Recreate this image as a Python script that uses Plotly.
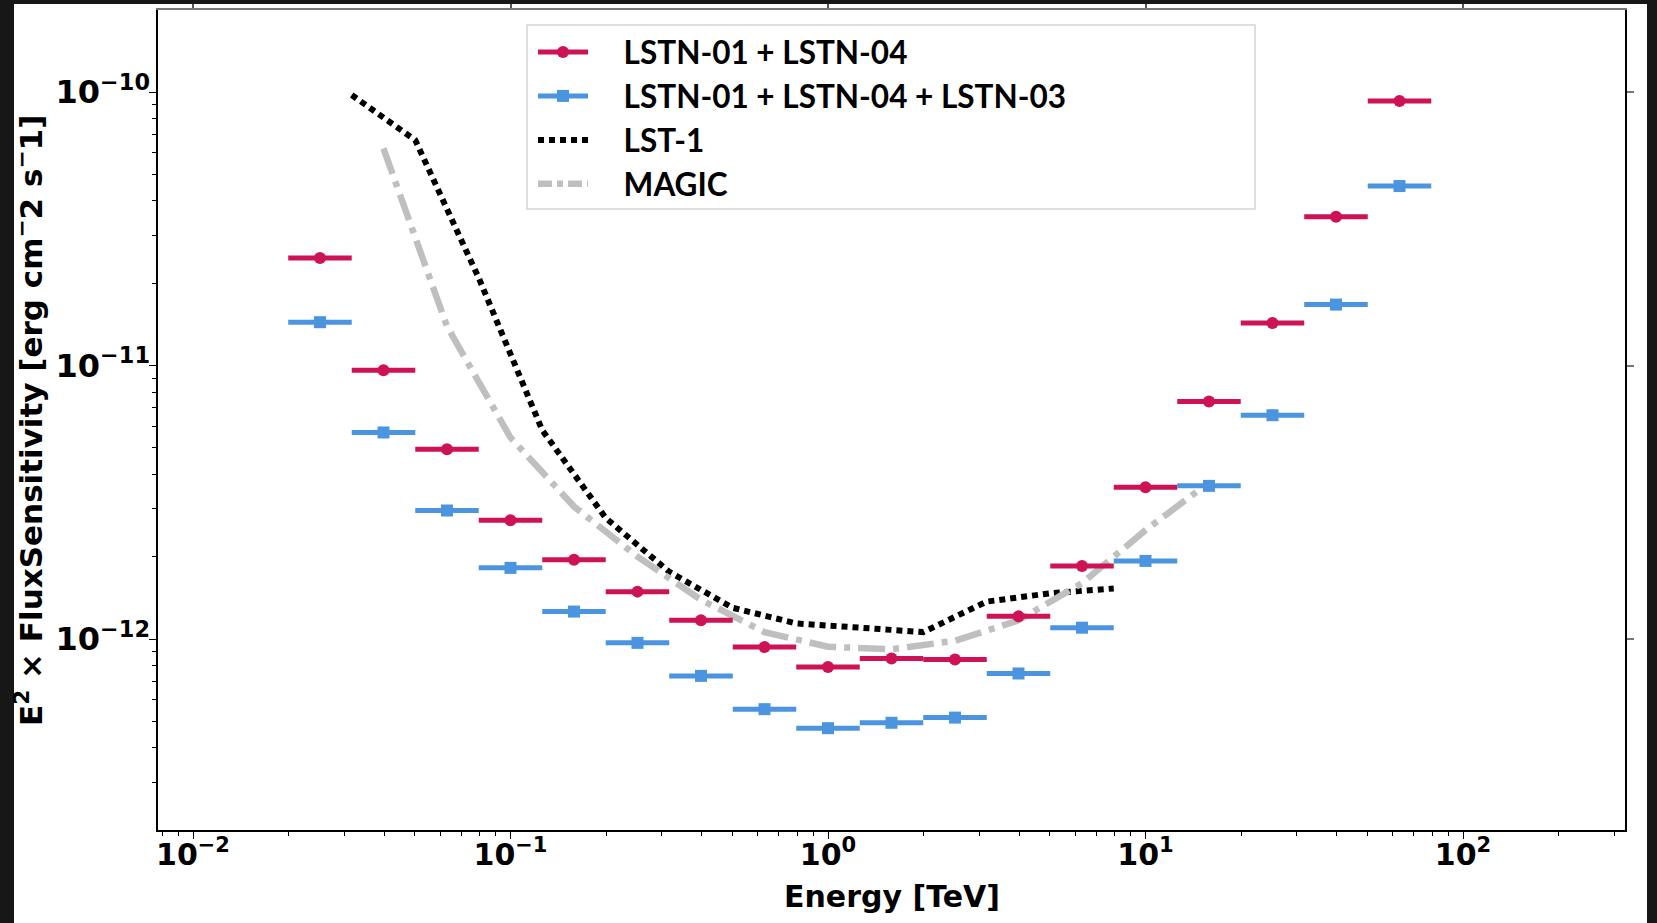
import plotly.graph_objects as go
import numpy as np

# ---------------- data ----------------
# energy bin edges [TeV] (5 bins per decade)
energy_edges = [0.01995, 0.03162, 0.05012, 0.07943, 0.1259, 0.1995, 0.3162, 0.5012,
                0.7943, 1.259, 1.995, 3.162, 5.012, 7.943, 12.59, 19.95, 31.62, 50.12, 79.43]

# E^2 x flux sensitivity [erg cm^-2 s^-1]
sens_lstn_01_04 = [2.47e-11, 9.6e-12, 4.94e-12, 2.72e-12, 1.95e-12, 1.49e-12, 1.17e-12, 9.34e-13,
                   7.9e-13, 8.49e-13, 8.42e-13, 1.21e-12, 1.85e-12, 3.59e-12, 7.38e-12, 1.43e-11,
                   3.50e-11, 9.27e-11]
sens_lstn_01_04_03 = [1.44e-11, 5.69e-12, 2.95e-12, 1.82e-12, 1.26e-12, 9.68e-13, 7.33e-13, 5.54e-13,
                      4.72e-13, 4.94e-13, 5.16e-13, 7.48e-13, 1.10e-12, 1.93e-12, 3.63e-12, 6.58e-12,
                      1.67e-11, 4.53e-11]

lst1_energy = [0.03162, 0.05012, 0.07943, 0.1259, 0.1995, 0.3162, 0.5012, 0.7943, 1.259,
               1.995, 3.162, 5.012, 7.943]
lst1_sens = [9.75e-11, 6.67e-11, 2.09e-11, 5.8e-12, 2.77e-12, 1.76e-12, 1.30e-12, 1.14e-12,
             1.10e-12, 1.06e-12, 1.37e-12, 1.47e-12, 1.53e-12]

magic_energy = [0.0398, 0.0631, 0.1, 0.1585, 0.2512, 0.3981, 0.631, 1.0, 1.585, 2.512,
                3.981, 6.31, 10.0, 15.2]
magic_sens = [6.22e-11, 1.39e-11, 5.45e-12, 3.05e-12, 2.0e-12, 1.39e-12, 1.06e-12, 9.37e-13,
              9.17e-13, 9.85e-13, 1.17e-12, 1.6e-12, 2.5e-12, 3.6e-12]

x_major = [0.01, 0.1, 1, 10, 100]
x_major_text = ["10<sup>−2</sup>", "10<sup>−1</sup>", "10<sup>0</sup>", "10<sup>1</sup>", "10<sup>2</sup>"]
y_major = [1e-12, 1e-11, 1e-10]
y_major_text = ["10<sup>−12</sup>", "10<sup>−11</sup>", "10<sup>−10</sup>"]

legend_names = ["LSTN-01 + LSTN-04", "LSTN-01 + LSTN-04 + LSTN-03", "LST-1", "MAGIC"]
x_title = "Energy [TeV]"
y_title = "E<sup>2</sup> × FluxSensitivity [erg cm<sup>−</sup>2 s<sup>−</sup>1]"

# ---------------- styling ----------------
RED = "#CE1256"
BLUE = "#4A94E0"
GREY = "#BFBFBF"

W, H = 1657, 923
L, R, T, B = 158, 1625, 10, 830  # plot area in pixels


def xp(px):
    return (px - L) / (R - L)


def yp(py):
    return (B - py) / (B - T)


lo = np.array(energy_edges[:-1])
hi = np.array(energy_edges[1:])
centers = np.sqrt(lo * hi)

fig = go.Figure()

LST_DASH = "6px,5px"
MAGIC_DASH = "27px,8px,6px,8px"


def errtrace(y, color, symbol, size):
    fig.add_trace(go.Scatter(
        x=centers, y=y, mode="markers", showlegend=False,
        marker=dict(color=color, symbol=symbol, size=size),
        error_x=dict(type="data", symmetric=False, array=hi - centers,
                     arrayminus=centers - lo, color=color, thickness=5, width=0),
    ))


fig.add_trace(go.Scatter(x=lst1_energy, y=lst1_sens, mode="lines", showlegend=False,
                         line=dict(color="black", width=6, dash=LST_DASH)))
fig.add_trace(go.Scatter(x=magic_energy, y=magic_sens, mode="lines", showlegend=False,
                         line=dict(color=GREY, width=6.5, dash=MAGIC_DASH)))
errtrace(sens_lstn_01_04, RED, "circle", 12)
errtrace(sens_lstn_01_04_03, BLUE, "square", 12)

pad = "\u00a0" * 4
# legend entries
fig.add_trace(go.Scatter(x=[None], y=[None], mode="lines+markers", name=pad + legend_names[0],
                         line=dict(color=RED, width=5), marker=dict(color=RED, symbol="circle", size=12)))
fig.add_trace(go.Scatter(x=[None], y=[None], mode="lines+markers", name=pad + legend_names[1],
                         line=dict(color=BLUE, width=5), marker=dict(color=BLUE, symbol="square", size=12)))
fig.add_trace(go.Scatter(x=[None], y=[None], mode="lines", name=pad + legend_names[2],
                         line=dict(color="black", width=6, dash=LST_DASH)))
fig.add_trace(go.Scatter(x=[None], y=[None], mode="lines", name=pad + legend_names[3],
                         line=dict(color=GREY, width=6.5, dash="14px,5px,6px,5px")))
# hidden traces for the extra tick axes
fig.add_trace(go.Scatter(x=[None], y=[None], xaxis="x2", yaxis="y2", showlegend=False,
                         hoverinfo="skip"))
fig.add_trace(go.Scatter(x=[None], y=[None], xaxis="x", yaxis="y3", showlegend=False,
                         hoverinfo="skip"))
fig.add_trace(go.Scatter(x=[None], y=[None], xaxis="x3", yaxis="y", showlegend=False,
                         hoverinfo="skip"))

x_range = [np.log10(0.01) - (193 - L) / 317.5, np.log10(100) + (R - 1463) / 317.5]
y_range = [-12 - (B - 639) / 273.5, -10 + (92 - T) / 273.5]

x_minor = [k * 10.0 ** e for e in range(-3, 3) for k in range(2, 10)]
y_minor = [k * 10.0 ** e for e in range(-13, -9) for k in range(2, 10)]

ytickfont = dict(family="DejaVu Sans", size=32, color="black", weight="bold")
xtickfont = dict(family="DejaVu Sans", size=30, color="black", weight="bold")
xtitlefont = dict(family="DejaVu Sans", size=30, color="black", weight="bold")
ytitlefont = dict(family="DejaVu Sans", size=31, color="black", weight="bold")

fig.update_layout(
    width=W, height=H,
    margin=dict(l=L, r=W - R, t=T, b=H - B, autoexpand=False),
    paper_bgcolor="white", plot_bgcolor="white",
    # labels only
    xaxis=dict(type="log", range=x_range, showgrid=False, zeroline=False, showline=False,
               ticks="", tickvals=x_major, ticktext=x_major_text, tickfont=xtickfont,
               ticklabelstandoff=4),
    # bottom spine with ticks
    xaxis3=dict(type="log", range=x_range, overlaying="x", side="bottom", anchor="y",
                showgrid=False, zeroline=False, showline=True, linecolor="black", linewidth=1.5,
                ticks="outside", ticklen=7, tickwidth=1.3, tickcolor="black",
                tickvals=x_major, showticklabels=False,
                minor=dict(tickvals=x_minor, ticks="outside", ticklen=4, tickwidth=1.1,
                           tickcolor="black", showgrid=False)),
    # labels only
    yaxis=dict(type="log", range=y_range, showgrid=False, zeroline=False, showline=False,
               ticks="", tickvals=y_major, ticktext=y_major_text, tickfont=ytickfont,
               ticklabelstandoff=7),
    # left spine with ticks
    yaxis3=dict(type="log", range=y_range, overlaying="y", side="left", anchor="x",
                showgrid=False, zeroline=False, showline=True, linecolor="black", linewidth=1.5,
                ticks="outside", ticklen=7, tickwidth=1.3, tickcolor="black",
                tickvals=y_major, showticklabels=False,
                minor=dict(tickvals=y_minor, ticks="outside", ticklen=4, tickwidth=1.1,
                           tickcolor="black", showgrid=False)),
    xaxis2=dict(type="log", range=x_range, overlaying="x", side="top", anchor="y",
                showgrid=False, zeroline=False, showline=True, linecolor="#777777", linewidth=2,
                ticks="outside", ticklen=7, tickwidth=1.5, tickcolor="#555555",
                tickvals=x_major, showticklabels=False),
    yaxis2=dict(type="log", range=y_range, overlaying="y", side="right", anchor="x",
                showgrid=False, zeroline=False, showline=True, linecolor="black", linewidth=1.5,
                ticks="outside", ticklen=7, tickwidth=1.5, tickcolor="#777777",
                tickvals=y_major, showticklabels=False),
    legend=dict(x=xp(533), y=yp(25), xanchor="left", yanchor="top",
                bgcolor="rgba(255,255,255,0)", borderwidth=0,
                font=dict(family="Lato", size=31.5, color="black", weight="bold"),
                itemwidth=50),
    showlegend=True,
)

# axis titles
fig.add_annotation(text=y_title, xref="paper", yref="paper", x=xp(29), y=yp(421),
                   xanchor="center", yanchor="middle", textangle=-90, showarrow=False,
                   font=ytitlefont)
fig.add_annotation(text=x_title, xref="paper", yref="paper", x=xp(891.5), y=yp(896),
                   xanchor="center", yanchor="middle", showarrow=False, font=xtitlefont)

# legend frame
fig.add_shape(type="rect", xref="paper", yref="paper", x0=xp(527), x1=xp(1255), y0=yp(209), y1=yp(25),
              line=dict(color="#D4D4D4", width=1.5), fillcolor="rgba(0,0,0,0)", layer="above")

# dark screenshot frame
dark = "#171717"
for (a, b, c, d) in [(0, 14, 0, H), (1647, W, 0, H), (0, W, 0, 4)]:
    fig.add_shape(type="rect", xref="paper", yref="paper", x0=xp(a), x1=xp(b), y0=yp(d), y1=yp(c),
                  line=dict(width=0), fillcolor=dark, layer="above")

fig.write_html("out.html", config={"displayModeBar": False},
               post_script="document.body.style.margin='0';document.body.style.padding='0';")
